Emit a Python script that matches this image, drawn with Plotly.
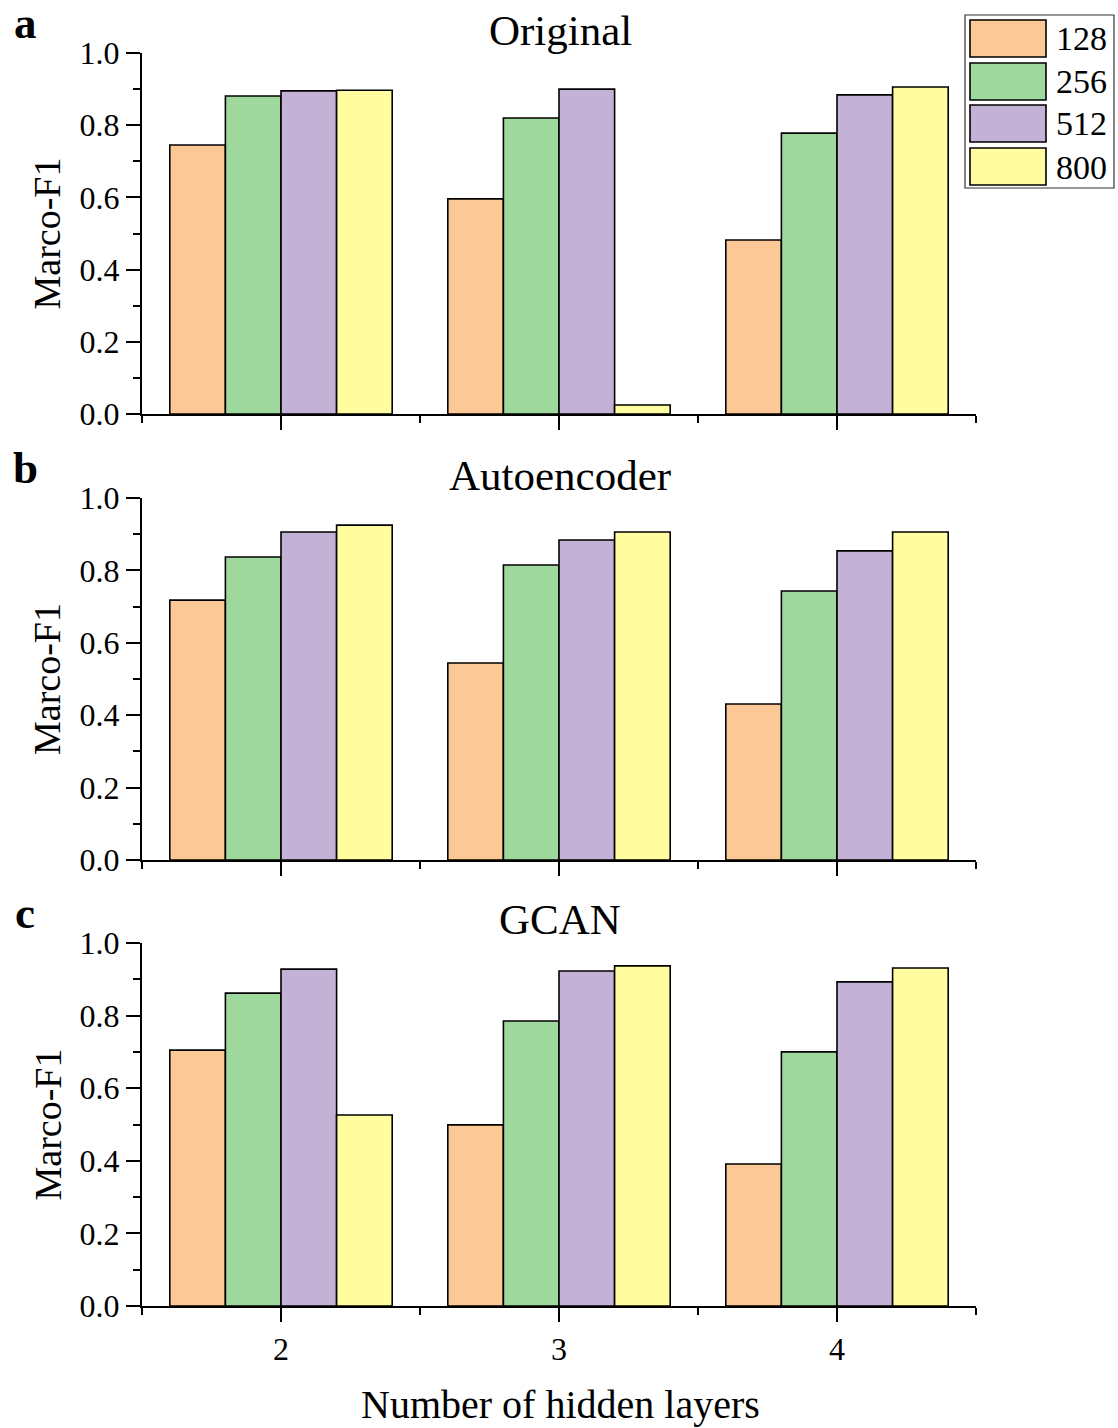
import plotly.graph_objects as go

# ---------------- data ----------------
layers = [2, 3, 4]
sizes = ["128", "256", "512", "800"]
colors = ["#FCC896", "#9ED89C", "#C3B2D6", "#FFFD9F"]
panel_titles = ["Original", "Autoencoder", "GCAN"]
panel_letters = ["a", "b", "c"]

original_128 = [0.745, 0.596, 0.482]
original_256 = [0.881, 0.820, 0.778]
original_512 = [0.895, 0.900, 0.884]
original_800 = [0.897, 0.025, 0.906]

auto_128 = [0.718, 0.544, 0.431]
auto_256 = [0.837, 0.815, 0.743]
auto_512 = [0.906, 0.884, 0.854]
auto_800 = [0.925, 0.906, 0.906]

gcan_128 = [0.705, 0.499, 0.391]
gcan_256 = [0.862, 0.785, 0.700]
gcan_512 = [0.928, 0.923, 0.893]
gcan_800 = [0.526, 0.937, 0.931]

panels = [
    [original_128, original_256, original_512, original_800],
    [auto_128, auto_256, auto_512, auto_800],
    [gcan_128, gcan_256, gcan_512, gcan_800],
]

# ---------------- layout helpers ----------------
W, H = 1118, 1428
PL, PR, PT, PB = 142, 976, 53, 1306   # plot-area edges in screen pixels
ML, MR, MT, MB = PL, W - PR, PT, H - PB
FONT = "Liberation Serif, Times New Roman, serif"


def px_x(px):
    return (px - PL) / (PR - PL)


def px_y(py):
    return (PB - py) / (PB - PT)


# pixel extents (top, bottom) of each panel's plot area (reference pixels)
panel_px = [(53, 414), (498, 860), (943, 1306)]

fig = go.Figure()

for p, series in enumerate(panels):
    ax = "" if p == 0 else str(p + 1)
    for s, vals in enumerate(series):
        fig.add_trace(go.Bar(
            x=layers, y=vals, name=sizes[s],
            marker=dict(color=colors[s], line=dict(color="black", width=1.6)),
            xaxis="x" + ax, yaxis="y" + ax, showlegend=False,
        ))

axis_common = dict(
    showline=True, linecolor="black", linewidth=2,
    ticks="outside", ticklen=14, tickwidth=2, tickcolor="black",
    showgrid=False, zeroline=False,
    tickfont=dict(family=FONT, size=32, color="black"),
)

layout = dict(
    width=W, height=H,
    margin=dict(l=ML, r=MR, t=MT, b=MB, pad=0),
    paper_bgcolor="white", plot_bgcolor="white",
    barmode="group", bargap=0.2, bargroupgap=0,
    font=dict(family=FONT, color="black"),
    showlegend=False,
)

annotations = []
shapes = []
for p in range(3):
    ax = "" if p == 0 else str(p + 1)
    top, bot = panel_px[p]
    dom = [max(0.0, px_y(bot)), min(1.0, px_y(top))]
    xa = dict(axis_common)
    xa.update(
        domain=[0, 1], anchor="y" + ax, range=[1.5, 4.5],
        tickmode="array", tickvals=layers,
        ticktext=[str(v) for v in layers],
        showticklabels=(p == 2),
        minor=dict(ticks="outside", ticklen=7, tickwidth=2, tickcolor="black",
                   tickmode="array", tickvals=[1.5, 2.5, 3.5, 4.5]),
    )
    ya = dict(axis_common)
    ya.update(
        domain=dom, anchor="x" + ax, range=[0, 1.0],
        tickmode="linear", tick0=0, dtick=0.2, tickformat=".1f",
        minor=dict(ticks="outside", ticklen=7, tickwidth=2, tickcolor="black",
                   dtick=0.1, tick0=0),
    )
    layout["xaxis" + ax] = xa
    layout["yaxis" + ax] = ya

    # panel title
    annotations.append(dict(
        text=panel_titles[p], xref="paper", yref="paper",
        x=px_x(560), y=px_y(top - 23), xanchor="center", yanchor="middle",
        showarrow=False, font=dict(family=FONT, size=43, color="black"),
    ))
    # panel letter
    annotations.append(dict(
        text="<b>" + panel_letters[p] + "</b>", xref="paper", yref="paper",
        x=px_x(25), y=px_y(top - 30), xanchor="center", yanchor="middle",
        showarrow=False, font=dict(family=FONT, size=45, color="black"),
    ))
    # y-axis title
    annotations.append(dict(
        text="Marco-F1", xref="paper", yref="paper",
        x=px_x(47), y=px_y((top + bot) / 2), xanchor="center", yanchor="middle",
        textangle=-90, showarrow=False,
        font=dict(family=FONT, size=38, color="black"),
    ))

# x-axis title
annotations.append(dict(
    text="Number of hidden layers", xref="paper", yref="paper",
    x=px_x(560), y=px_y(1404), xanchor="center", yanchor="middle",
    showarrow=False, font=dict(family=FONT, size=40, color="black"),
))

# custom legend (box + swatches + labels)
shapes.append(dict(type="rect", xref="paper", yref="paper",
                   x0=px_x(965), x1=px_x(1114), y0=px_y(188), y1=px_y(15),
                   line=dict(color="#333333", width=1.2), fillcolor="white"))
sw_tops = [20, 63, 105, 148]
for i, lab in enumerate(sizes):
    t = sw_tops[i]
    shapes.append(dict(type="rect", xref="paper", yref="paper",
                       x0=px_x(970), x1=px_x(1046), y0=px_y(t + 37), y1=px_y(t),
                       line=dict(color="black", width=1.6), fillcolor=colors[i]))
    annotations.append(dict(
        text=lab, xref="paper", yref="paper",
        x=px_x(1054), y=px_y(t + 19), xanchor="left", yanchor="middle",
        showarrow=False, font=dict(family=FONT, size=34, color="black"),
    ))

layout["annotations"] = annotations
layout["shapes"] = shapes
fig.update_layout(**layout)

fig.write_html(
    "out.html",
    config={"displayModeBar": False},
    post_script="document.body.style.margin='0';"
                "document.body.style.overflow='hidden';",
)
